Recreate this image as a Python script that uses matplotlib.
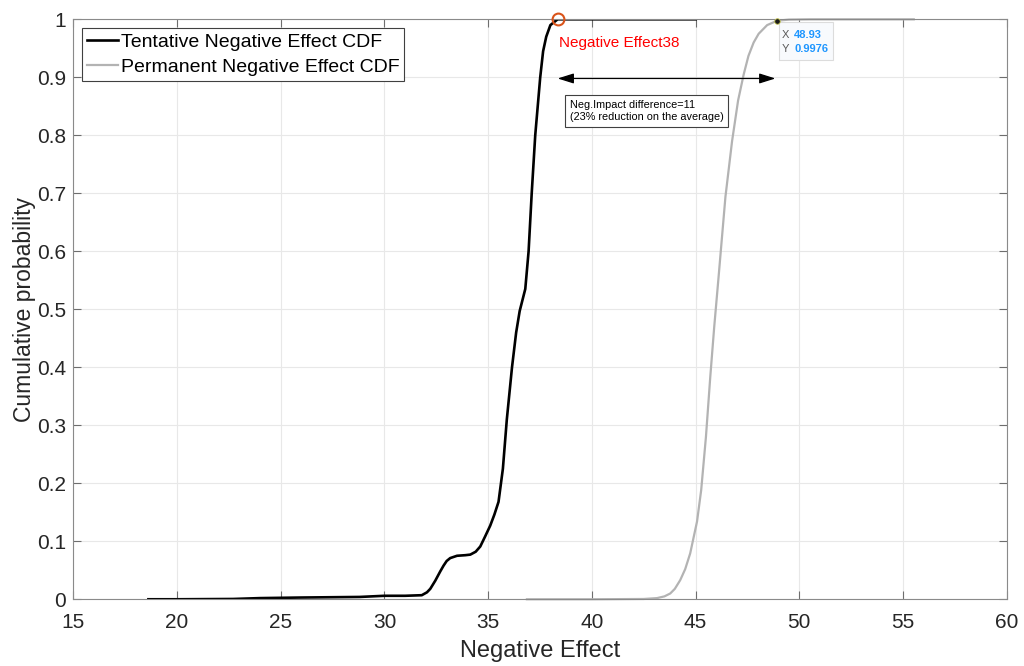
# CDF comparison of tentative vs permanent negative effect
import matplotlib
matplotlib.use("Agg")
import matplotlib.pyplot as plt
import matplotlib.transforms as mtransforms
from matplotlib.patches import Rectangle

plt.rcParams["font.family"] = ["Liberation Sans", "DejaVu Sans"]

# Data
tentative_x = [18.62, 20.0, 22.7, 24.0, 26.0, 28.8, 30.0, 31.0, 31.8, 32.05,
               32.21, 32.45, 32.69, 32.85, 33.0, 33.17, 33.5, 33.9, 34.14,
               34.4, 34.62, 34.85, 35.1, 35.3, 35.5, 35.71, 35.9, 36.15,
               36.35, 36.52, 36.79, 36.95, 37.1, 37.27, 37.51, 37.65, 37.8,
               38.0, 38.35, 45.0]
tentative_y = [0.0, 0.0, 0.0005, 0.002, 0.003, 0.004, 0.006, 0.006, 0.007,
               0.012, 0.018, 0.032, 0.048, 0.058, 0.066, 0.071, 0.075, 0.076,
               0.077, 0.082, 0.091, 0.108, 0.127, 0.146, 0.168, 0.225, 0.31,
               0.40, 0.46, 0.497, 0.535, 0.60, 0.70, 0.80, 0.90, 0.945, 0.97,
               0.99, 1.0, 1.0]

permanent_x = [36.87, 40.0, 42.5, 43.14, 43.5, 43.78, 44.0, 44.26, 44.5,
               44.74, 45.07, 45.27, 45.5, 45.71, 45.9, 46.11, 46.44, 46.76,
               47.05, 47.32, 47.55, 47.8, 48.04, 48.45, 48.93, 49.5, 50.5,
               55.52]
permanent_y = [0.0, 0.0, 0.0005, 0.002, 0.005, 0.010, 0.018, 0.033, 0.052,
               0.079, 0.134, 0.188, 0.28, 0.384, 0.47, 0.556, 0.694, 0.79,
               0.86, 0.905, 0.937, 0.96, 0.975, 0.99, 0.9976, 0.9995, 1.0,
               1.0]

marker_x, marker_y = 38.35, 1.0
tip_x, tip_y = 48.93, 0.9976
arrow_y = 0.898

x_ticks = [15, 20, 25, 30, 35, 40, 45, 50, 55, 60]
y_ticks = [0, 0.1, 0.2, 0.3, 0.4, 0.5, 0.6, 0.7, 0.8, 0.9, 1]
y_tick_labels = ["0", "0.1", "0.2", "0.3", "0.4", "0.5", "0.6", "0.7",
                 "0.8", "0.9", "1"]

# Figure and axes
fig = plt.figure(figsize=(10.24, 6.66), dpi=100)
ax = fig.add_axes([0.0716, 0.1002, 0.9115, 0.8708])

ax.plot(tentative_x, tentative_y, color="black", lw=1.9,
        solid_joinstyle="round", label="Tentative Negative Effect CDF")
ax.plot(permanent_x, permanent_y, color="#b3b3b3", lw=1.6,
        solid_joinstyle="round", label="Permanent Negative Effect CDF",
        clip_on=False)

# Marker and label at the top of the tentative curve
ax.plot(marker_x, marker_y, "o", mfc="none", mec="#D95319", mew=1.5, ms=8.5,
        clip_on=False, zorder=5)
ax.text(marker_x + 0.05, 0.959, "Negative Effect38", color="red",
        fontsize=11, va="center", ha="left")

# Double-headed arrow showing the difference
ax.annotate("", xy=(marker_x, arrow_y), xytext=(48.85, arrow_y),
            arrowprops=dict(arrowstyle="<|-|>,head_length=0.7,head_width=0.22",
                            color="black", lw=0.9, shrinkA=0, shrinkB=0,
                            mutation_scale=14))

ax.text(38.93, 0.861, "Neg.Impact difference=11\n(23% reduction on the average)",
        fontsize=7.8, va="top", ha="left", linespacing=1.25,
        bbox=dict(boxstyle="square,pad=0.45", fc="white", ec="#404040", lw=0.8))

# Data tip
ax.plot(tip_x, tip_y, "o", color="#1a1a1a", mec="#c8c850", ms=4, mew=0.6,
        clip_on=False, zorder=6)
tip_trans = fig.dpi_scale_trans + mtransforms.ScaledTranslation(
    tip_x, tip_y, ax.transData)
ax.add_patch(Rectangle((0.016, -0.393), 0.54, 0.383, transform=tip_trans,
                       fc="#f8fafd", ec="#dcdcdc", lw=0.8, clip_on=False,
                       zorder=5))
for dy, name, val in [(-0.143, "X", "48.93"), (-0.283, "Y", "0.9976")]:
    ax.text(0.05, dy, name, transform=tip_trans, color="#5a5a5a", fontsize=8,
            va="center", ha="left", zorder=7)
    ax.text(0.17, dy, val, transform=tip_trans, color="#1e96ff", fontsize=8,
            fontweight="bold", va="center", ha="left", zorder=7)

# Axis formatting
ax.set_xlim(15, 60)
ax.set_ylim(0, 1)
ax.set_xticks(x_ticks)
ax.set_yticks(y_ticks)
ax.set_yticklabels(y_tick_labels)
ax.tick_params(direction="in", length=6, width=0.8, color="#6e6e6e",
               labelsize=15, labelcolor="#262626", top=True, right=True)
ax.tick_params(axis="x", pad=10)
ax.tick_params(axis="y", pad=5)
for spine in ax.spines.values():
    spine.set_color("#8a8a8a")
    spine.set_linewidth(0.8)
ax.grid(True, color="#e8e8e8", lw=0.8)
ax.set_axisbelow(True)

ax.set_xlabel("Negative Effect", fontsize=17, color="#262626", labelpad=6)
ax.set_ylabel("Cumulative probability", fontsize=16.5, color="#262626",
              labelpad=1)

leg = ax.legend(loc="upper left", fontsize=14, frameon=True, fancybox=False,
                framealpha=1, edgecolor="#404040", handlelength=1.6,
                handletextpad=0.15, labelspacing=0.4, borderpad=0.25,
                borderaxespad=0.45)
leg.get_frame().set_linewidth(0.8)

fig.savefig("out.png", dpi=100)
